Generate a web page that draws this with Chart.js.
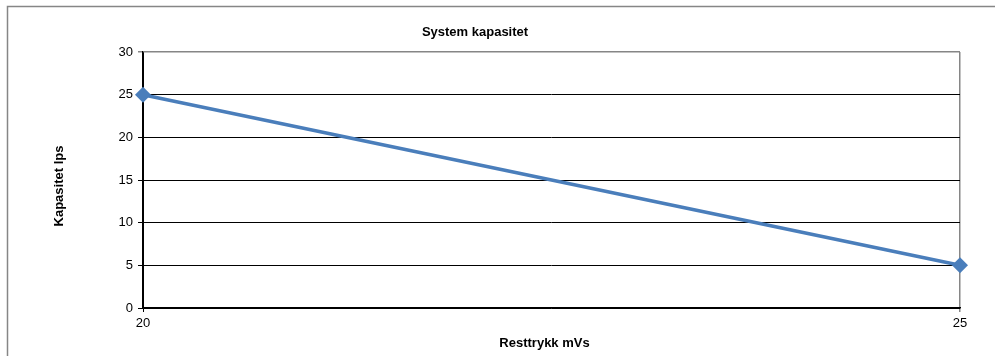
<!DOCTYPE html>
<html>
<head>
<meta charset="utf-8">
<script src="https://cdn.jsdelivr.net/npm/chart.js@4/dist/chart.umd.min.js"></script>
<style>
  html, body { margin: 0; padding: 0; background: #fff; }
  #wrap { width: 995px; height: 356px; position: relative; }
</style>
</head>
<body>
<div id="wrap"><canvas id="c" width="995" height="356"></canvas></div>
<script>
// Residual pressure (mVs) vs. system capacity (lps)
const pressure = [20, 25];
const capacity = [25, 5];
const yTicks = [0, 5, 10, 15, 20, 25, 30];
const xTicks = [20, 25];

const chartTitle = 'System kapasitet';
const xTitle = 'Resttrykk mVs';
const yTitle = 'Kapasitet lps';

const FONT = '"Liberation Sans", Arial, sans-serif';
const LINE = '#4a7ebb';
const FRAME = '#868686';

// Outer frame and the three titles
const decor = {
  id: 'decor',
  beforeDraw(chart) {
    const ctx = chart.ctx;
    ctx.save();
    ctx.strokeStyle = FRAME;
    ctx.lineWidth = 1.5;
    ctx.strokeRect(7.5, 6.5, 1100, 500);
    ctx.restore();
  },
  afterDraw(chart) {
    const ctx = chart.ctx;
    const a = chart.chartArea;
    ctx.save();
    ctx.fillStyle = '#000';
    ctx.font = 'bold 13px ' + FONT;
    ctx.textAlign = 'center';
    ctx.textBaseline = 'middle';
    ctx.fillText(chartTitle, 475, 32);
    ctx.fillText(xTitle, (a.left + a.right) / 2 - 7, 343);
    ctx.translate(59, 186);
    ctx.rotate(-Math.PI / 2);
    ctx.fillText(yTitle, 0, 0);
    ctx.restore();
  }
};

new Chart(document.getElementById('c'), {
  type: 'line',
  data: {
    datasets: [{
      data: pressure.map((x, i) => ({ x, y: capacity[i] })),
      borderColor: LINE,
      backgroundColor: LINE,
      borderWidth: 3.5,
      pointStyle: 'rectRot',
      pointRadius: 8,
      pointHoverRadius: 8,
      pointBorderWidth: 0,
      tension: 0,
      clip: false
    }]
  },
  options: {
    responsive: false,
    animation: false,
    events: [],
    layout: { padding: { left: 0, top: 52, right: 35, bottom: 0 } },
    plugins: { legend: { display: false }, title: { display: false }, tooltip: { enabled: false } },
    scales: {
      x: {
        type: 'linear',
        min: xTicks[0],
        max: xTicks[xTicks.length - 1],
        ticks: {
          stepSize: xTicks[1] - xTicks[0],
          color: '#000', font: { family: FONT, size: 13 }, padding: 4, maxRotation: 0
        },
        afterFit: s => { s.height = 48; },
        border: { color: '#000', width: 1.5 },
        grid: {
          color: c => (c.tick && c.tick.value === 25) ? FRAME : '#000',
          lineWidth: c => (c.tick && c.tick.value === 25) ? 1.5 : 1,
          tickLength: 4
        }
      },
      y: {
        min: yTicks[0],
        max: yTicks[yTicks.length - 1],
        ticks: {
          stepSize: yTicks[1] - yTicks[0],
          color: '#000', font: { family: FONT, size: 13 }, padding: 5
        },
        afterFit: s => { s.width = 143; },
        border: { color: '#000', width: 1.2 },
        grid: {
          color: c => (c.tick && c.tick.value === 30) ? FRAME : '#000',
          lineWidth: c => (c.tick && c.tick.value === 30) ? 1.5 : 1,
          tickLength: 5
        }
      }
    }
  },
  plugins: [decor]
});
</script>
</body>
</html>
